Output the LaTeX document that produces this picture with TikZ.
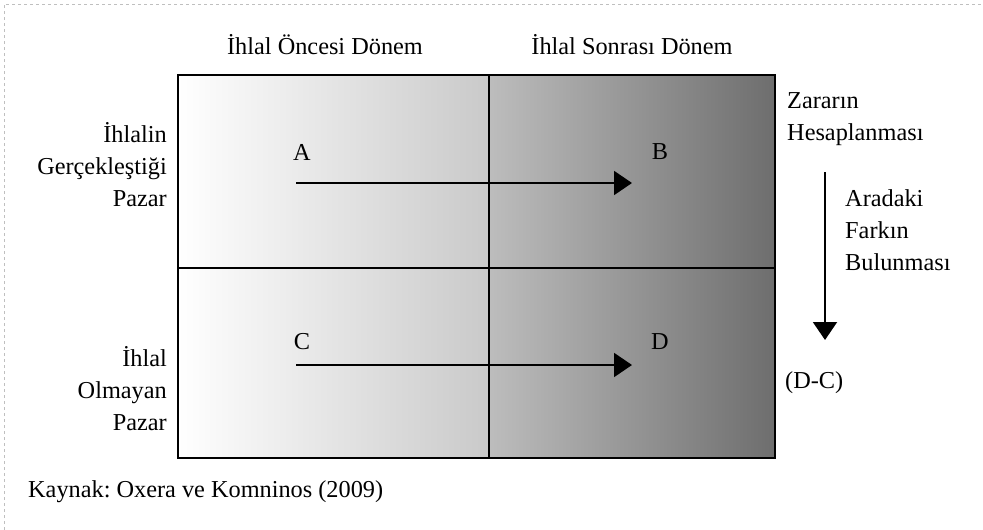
\documentclass[tikz,border=0pt]{standalone}
\usepackage{fontspec}
\setmainfont{Liberation Serif}
\usetikzlibrary{arrows.meta}
\frenchspacing
\begin{document}
\begin{tikzpicture}[x=1pt,y=-1pt,
  lbl/.style={inner sep=0pt,font=\fontsize{24.3}{32}\selectfont},
  flow/.style={line width=2pt,-{Triangle[length=18pt,width=24pt]}},
  frame/.style={line width=2pt}]
\useasboundingbox (0,0) rectangle (983,530);
% faint page border
\draw[black!25,dashed,line width=0.6pt] (4,530) -- (4,4) -- (983,4);
% shaded panels
\shade[left color=white,right color=black!21] (178,75) rectangle (489,458);
\shade[left color=black!26,right color=black!57] (489,75) rectangle (775,458);
\draw[frame] (178,75) rectangle (775,458);
\draw[frame] (489,75) -- (489,458);
\draw[frame] (178,268) -- (775,268);
% headers
\node[lbl] (h1) at (325,45) {İhlal Öncesi Dönem};
\node[lbl] (h2) at (632,45) {İhlal Sonrası Dönem};
% left labels
\node[lbl,anchor=east,align=right] (l1) at (167,165) {İhlalin\\Gerçekleştiği\\Pazar};
\node[lbl,anchor=east,align=right] (l2) at (167,389) {İhlal\\Olmayan\\Pazar};
% cell letters
\node[lbl] (A) at (302,152) {A};
\node[lbl] (B) at (660,152) {B};
\node[lbl] (C) at (302,342) {C};
\node[lbl] (D) at (660,342) {D};
% flows
\coordinate (a1) at (296,183);
\coordinate (a2) at (632,183);
\coordinate (c1) at (296,365);
\coordinate (c2) at (632,365);
\draw[flow] (a1) -- (a2);
\draw[flow] (c1) -- (c2);
% right side
\node[lbl,anchor=west,align=left] (z) at (787,119) {Zararın\\Hesaplanması};
\coordinate (d1) at (825,172);
\coordinate (d2) at (825,340);
\draw[flow] (d1) -- (d2);
\node[lbl,anchor=west,align=left] (f) at (845,230) {Aradaki\\Farkın\\Bulunması};
\node[lbl,anchor=west] (dc) at (785,383) {(D-C)};
% source
\node[lbl,anchor=west] (src) at (28,492) {Kaynak: Oxera ve Komninos (2009)};
\end{tikzpicture}
\end{document}
